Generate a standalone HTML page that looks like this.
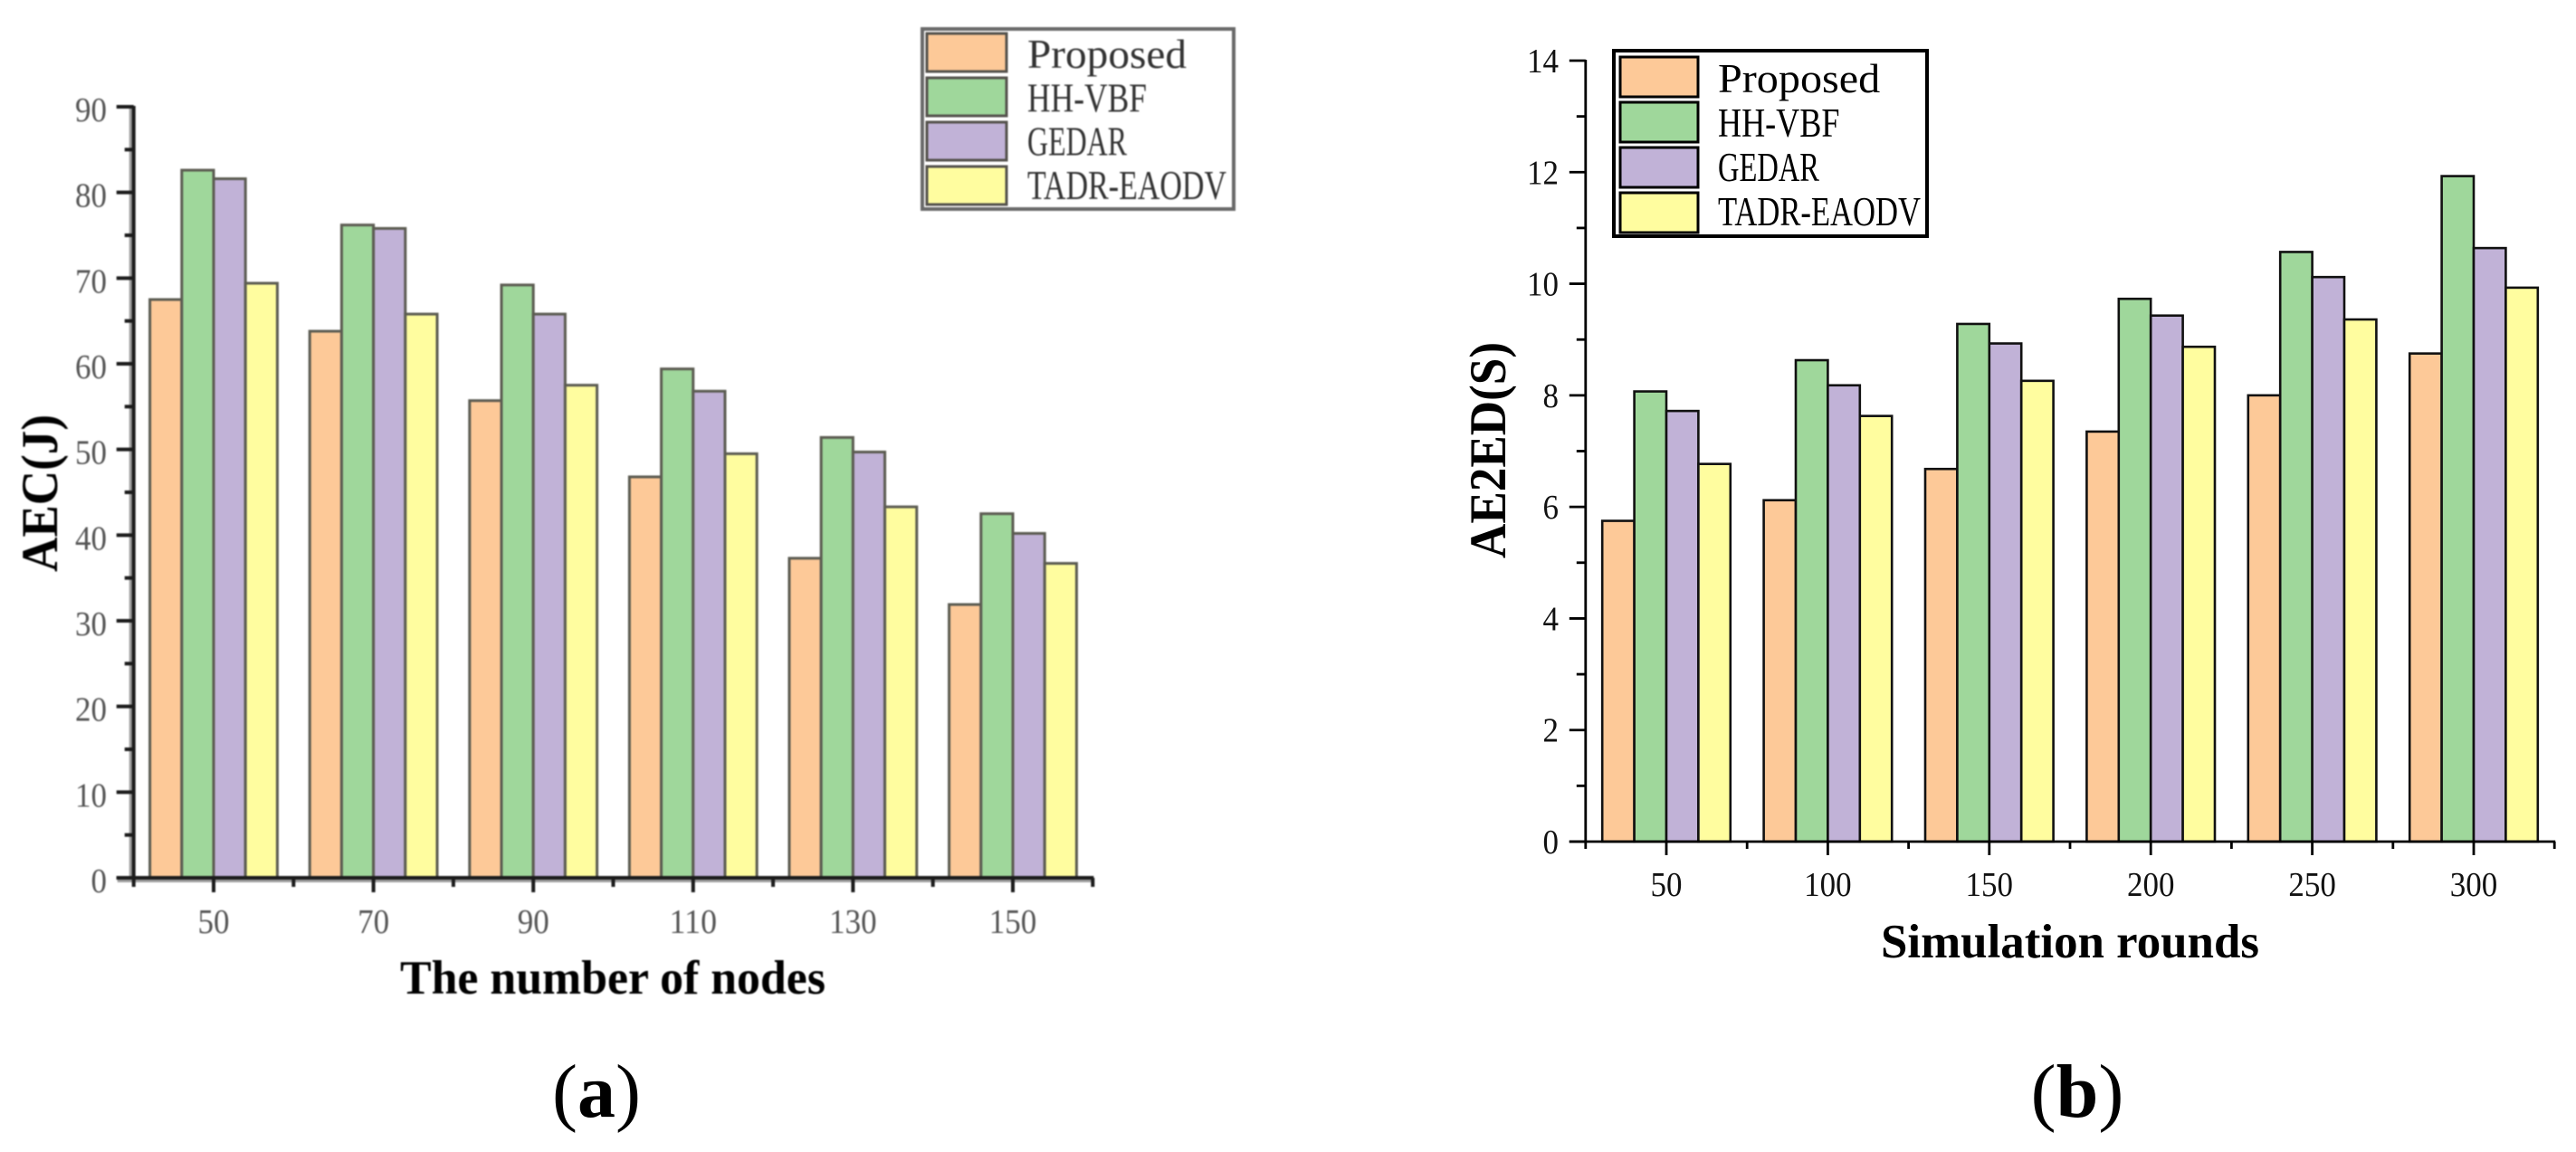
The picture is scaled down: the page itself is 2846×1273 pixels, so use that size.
<!DOCTYPE html>
<html lang="en">
<head>
<meta charset="utf-8">
<title>AEC and AE2ED bar charts</title>
<style>
  html, body { margin: 0; padding: 0; background: #ffffff; }
  body { width: 2846px; height: 1273px; overflow: hidden; }
  svg { display: block; }
  text { font-family: "Liberation Serif", serif; }
  #chart-a { filter: blur(0.8px); }
  #chart-b { filter: blur(0.3px); }
</style>
</head>
<body>
<svg id="figure" width="2846" height="1273" viewBox="0 0 2846 1273" xmlns="http://www.w3.org/2000/svg">
  <rect x="0" y="0" width="2846" height="1273" fill="#ffffff"/>
  <g id="chart-a"></g>
  <g id="chart-b"></g>
  <text x="659" y="1234" font-size="84" text-anchor="middle" fill="#000">(<tspan font-weight="bold">a</tspan>)</text>
  <text x="2295" y="1234" font-size="84" text-anchor="middle" fill="#000">(<tspan font-weight="bold">b</tspan>)</text>
</svg>
<script>
const seriesNames = ['Proposed', 'HH-VBF', 'GEDAR', 'TADR-EAODV'];
const seriesColors = ['#FDC998', '#9FD79B', '#C1B2D7', '#FFFD9F'];

const categoriesA = ['50', '70', '90', '110', '130', '150'];
const proposedA = [67.5, 63.8, 55.7, 46.8, 37.3, 31.9];
const hhVbfA = [82.6, 76.2, 69.2, 59.4, 51.4, 42.5];
const gedarA = [81.6, 75.8, 65.8, 56.8, 49.7, 40.2];
const tadrA = [69.4, 65.8, 57.5, 49.5, 43.3, 36.7];
const yTicksA = [0, 10, 20, 30, 40, 50, 60, 70, 80, 90];

const categoriesB = ['50', '100', '150', '200', '250', '300'];
const proposedB = [5.75, 6.12, 6.68, 7.35, 8.0, 8.75];
const hhVbfB = [8.07, 8.63, 9.28, 9.73, 10.57, 11.93];
const gedarB = [7.72, 8.18, 8.93, 9.43, 10.12, 10.64];
const tadrB = [6.77, 7.63, 8.26, 8.87, 9.36, 9.93];
const yTicksB = [0, 2, 4, 6, 8, 10, 12, 14];

const SVG_NS = 'http://www.w3.org/2000/svg';

function make(parent, tag, attrs, content) {
  const el = document.createElementNS(SVG_NS, tag);
  for (const key in attrs) el.setAttribute(key, attrs[key]);
  if (content !== undefined) el.textContent = content;
  parent.appendChild(el);
  return el;
}

function drawChart(root, cfg) {
  const yMax = cfg.yTicks[cfg.yTicks.length - 1];
  const yScale = v => cfg.y0 - v * (cfg.y0 - cfg.yTop) / yMax;
  const xScale = i => cfg.firstCenter + i * cfg.step;
  const axisLeft = xScale(-0.5);
  const axisRight = xScale(cfg.categories.length - 0.5);

  // bars
  cfg.series.forEach((values, s) => {
    values.forEach((value, i) => {
      const bar = make(root, 'rect', {
        x: xScale(i) + (s - 2) * cfg.barWidth,
        y: yScale(value),
        width: cfg.barWidth,
        height: cfg.y0 - yScale(value),
        fill: seriesColors[s],
        stroke: cfg.barStroke,
        'stroke-width': cfg.lineWidth
      });
      
      
    });
  });

  // shadow of axes (only in the soft panel)
  if (cfg.shadow) {
    const shadowY = make(root, 'line', { x1: axisLeft - 3, x2: axisLeft - 3, y1: cfg.yTop, y2: cfg.y0, stroke: cfg.shadow, 'stroke-width': 4 });
    
    
    const shadowX = make(root, 'line', { x1: axisLeft - 18, x2: axisRight, y1: cfg.y0 + 3, y2: cfg.y0 + 3, stroke: cfg.shadow, 'stroke-width': 4 });
    
    
  }

  // axis lines
  const yAxis = make(root, 'line', { x1: axisLeft, x2: axisLeft, y1: cfg.yTop - 1, y2: cfg.y0, stroke: cfg.axisColor, 'stroke-width': cfg.axisWidth });
  
  
  const xAxis = make(root, 'line', { x1: axisLeft - cfg.majorLen, x2: axisRight + 1, y1: cfg.y0, y2: cfg.y0, stroke: cfg.axisColor, 'stroke-width': cfg.axisWidth });
  
  

  // y ticks and labels
  cfg.yTicks.forEach((v, i) => {
    const py = yScale(v);
    const tick = make(root, 'line', { x1: axisLeft - cfg.majorLen, x2: axisLeft, y1: py, y2: py, stroke: cfg.axisColor, 'stroke-width': cfg.axisWidth });
    
    
    const str = String(v);
    const label = make(root, 'text', {
      x: cfg.yLabelRight - str.length * cfg.tickCharWidth,
      y: py + cfg.yLabelDrop,
      'font-size': cfg.tickFont,
      fill: cfg.tickColor,
      textLength: str.length * cfg.tickCharWidth,
      lengthAdjust: 'spacingAndGlyphs'
    }, str);
    
    
    if (i < cfg.yTicks.length - 1) {
      const mid = (v + cfg.yTicks[i + 1]) / 2;
      const minor = make(root, 'line', { x1: axisLeft - cfg.minorLen, x2: axisLeft, y1: yScale(mid), y2: yScale(mid), stroke: cfg.axisColor, 'stroke-width': cfg.axisWidth });
      
      
    }
  });

  // x ticks and labels
  cfg.categories.forEach((c, i) => {
    const px = xScale(i);
    const tick = make(root, 'line', { x1: px, x2: px, y1: cfg.y0, y2: cfg.y0 + cfg.xMajorLen, stroke: cfg.axisColor, 'stroke-width': cfg.axisWidth });
    
    
    const label = make(root, 'text', {
      x: px - c.length * cfg.tickCharWidth / 2,
      y: cfg.xLabelBaseline,
      'font-size': cfg.tickFont,
      fill: cfg.tickColor,
      textLength: c.length * cfg.tickCharWidth,
      lengthAdjust: 'spacingAndGlyphs'
    }, c);
    
    
  });
  for (let i = 0; i <= cfg.categories.length; i++) {
    const px = xScale(i - 0.5);
    const minor = make(root, 'line', { x1: px, x2: px, y1: cfg.y0, y2: cfg.y0 + cfg.xMinorLen, stroke: cfg.axisColor, 'stroke-width': cfg.axisWidth });
    
    
  }

  // axis titles
  const xTitle = make(root, 'text', {
    x: cfg.xTitle.x, y: cfg.xTitle.y, 'font-size': 53, 'font-weight': 'bold', fill: '#000',
    textLength: cfg.xTitle.length, lengthAdjust: 'spacingAndGlyphs'
  }, cfg.xTitle.text);
  
  
  const yTitle = make(root, 'text', {
    x: cfg.yTitle.x, y: cfg.yTitle.y, 'font-size': 57, 'font-weight': 'bold', fill: '#000',
    transform: 'rotate(-90 ' + cfg.yTitle.x + ' ' + cfg.yTitle.y + ')',
    textLength: cfg.yTitle.length, lengthAdjust: 'spacingAndGlyphs'
  }, cfg.yTitle.text);
  
  

  // legend
  const lg = cfg.legend;
  const legend = make(root, 'g', {});
  
  
  const frame = make(legend, 'rect', { x: lg.x, y: lg.y, width: lg.w, height: lg.h, fill: '#ffffff', stroke: lg.frame, 'stroke-width': 4 });
  
  
  seriesNames.forEach((name, s) => {
    const swatch = make(legend, 'rect', {
      x: lg.swatchX, y: lg.swatchY + s * lg.rowStep, width: lg.swatchW, height: lg.swatchH,
      fill: seriesColors[s], stroke: lg.swatchStroke, 'stroke-width': 3
    });
    
    
    const label = make(legend, 'text', {
      x: lg.textX, y: lg.textY + s * lg.textStep, 'font-size': 45, fill: lg.textColor,
      textLength: name.length * lg.charWidth, lengthAdjust: 'spacingAndGlyphs'
    }, name);
    
    
  });
}

drawChart(document.getElementById('chart-a'), {
  categories: categoriesA,
  series: [proposedA, hhVbfA, gedarA, tadrA],
  yTicks: yTicksA,
  y0: 970, yTop: 118,
  firstCenter: 236, step: 176.6, barWidth: 35.2,
  barStroke: '#5c5c52', lineWidth: 3,
  axisColor: '#1c1c1c', axisWidth: 4, shadow: '#a0a0a0',
  majorLen: 19, minorLen: 10, xMajorLen: 16, xMinorLen: 10,
  tickFont: 38, tickColor: '#555', tickCharWidth: 17.5,
  yLabelRight: 118, yLabelDrop: 16, xLabelBaseline: 1031,
  xTitle: { text: 'The number of nodes', x: 442, y: 1098, length: 470 },
  yTitle: { text: 'AEC(J)', x: 63, y: 632, length: 174 },
  legend: {
    x: 1019, y: 32, w: 344, h: 199, frame: '#6a6a6a',
    swatchX: 1024, swatchY: 37, swatchW: 88, swatchH: 42, rowStep: 49,
    swatchStroke: '#55524c', textX: 1135, textY: 75, textStep: 48.3,
    charWidth: 22, textColor: '#333'
  }
});

drawChart(document.getElementById('chart-b'), {
  categories: categoriesB,
  series: [proposedB, hhVbfB, gedarB, tadrB],
  yTicks: yTicksB,
  y0: 930, yTop: 67,
  firstCenter: 1841, step: 178.4, barWidth: 35.4,
  barStroke: '#111', lineWidth: 2.6,
  axisColor: '#000', axisWidth: 2.8, shadow: null,
  majorLen: 18, minorLen: 10, xMajorLen: 15, xMinorLen: 8,
  tickFont: 38, tickColor: '#111', tickCharWidth: 17.5,
  yLabelRight: 1722, yLabelDrop: 13, xLabelBaseline: 990,
  xTitle: { text: 'Simulation rounds', x: 2078, y: 1058, length: 418 },
  yTitle: { text: 'AE2ED(S)', x: 1663, y: 617, length: 239 },
  legend: {
    x: 1783, y: 56, w: 346, h: 205, frame: '#000',
    swatchX: 1790, swatchY: 63, swatchW: 86, swatchH: 44, rowStep: 50,
    swatchStroke: '#000', textX: 1898, textY: 102, textStep: 49,
    charWidth: 22.4, textColor: '#000'
  }
});
</script>
</body>
</html>
